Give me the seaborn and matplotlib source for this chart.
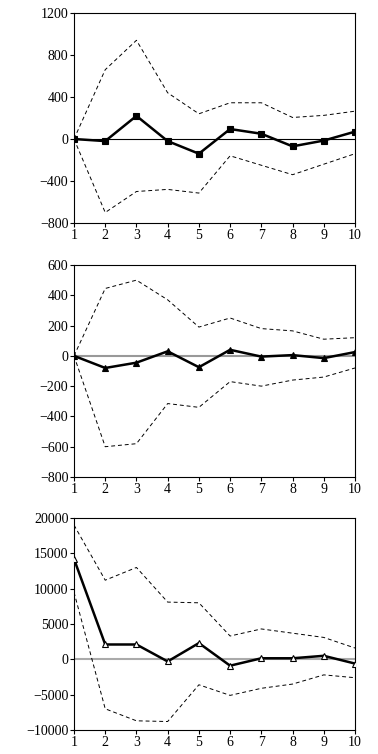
import pandas as pd
import matplotlib
matplotlib.use("Agg")
import matplotlib.pyplot as plt
import seaborn as sns

sns.set_style("ticks")
plt.rcParams['font.family'] = ['Liberation Serif', 'DejaVu Serif']
plt.rcParams['axes.unicode_minus'] = True

periods = [1, 2, 3, 4, 5, 6, 7, 8, 9, 10]

# panel 1
p1_mid = [0, -20, 220, -20, -140, 95, 50, -70, -15, 70]
p1_up = [0, 660, 940, 440, 240, 345, 345, 205, 225, 265]
p1_lo = [0, -700, -500, -480, -515, -160, -250, -340, -240, -140]

# panel 2
p2_mid = [0, -80, -45, 30, -75, 40, -5, 5, -15, 25]
p2_up = [0, 445, 500, 370, 190, 250, 180, 165, 110, 120]
p2_lo = [0, -600, -580, -315, -340, -170, -200, -160, -140, -80]

# panel 3
p3_mid = [14200, 2100, 2100, -300, 2300, -900, 150, 150, 500, -600]
p3_up = [19000, 11200, 13000, 8100, 8000, 3300, 4300, 3700, 3100, 1600]
p3_lo = [9500, -7000, -8700, -8800, -3600, -5100, -4100, -3500, -2200, -2600]

panels = [
    (p1_mid, p1_up, p1_lo, (-800, 1200), [-800, -400, 0, 400, 800, 1200], 's', 'black', 'black', 0.8),
    (p2_mid, p2_up, p2_lo, (-800, 600), [-800, -600, -400, -200, 0, 200, 400, 600], '^', 'black', '#999999', 1.5),
    (p3_mid, p3_up, p3_lo, (-10000, 20000), [-10000, -5000, 0, 5000, 10000, 15000, 20000], '^', 'white', '#aaaaaa', 1.5),
]

fig = plt.figure(figsize=(3.78, 7.54), dpi=100)
boxes = [
    [74/378, 1 - 223/754, 281/378, 210/754],
    [74/378, 1 - 477/754, 281/378, 212/754],
    [74/378, 1 - 730/754, 281/378, 212/754],
]

for box, (mid, up, lo, ylim, yt, mk, mfc, zc, zw) in zip(boxes, panels):
    ax = fig.add_axes(box)
    ax.axhline(0, color=zc, lw=zw, zorder=1)
    df = pd.DataFrame({'t': periods, 'mid': mid, 'up': up, 'lo': lo})
    sns.lineplot(data=df, x='t', y='up', ax=ax, color='black', lw=0.7, linestyle=(0, (4, 3)))
    sns.lineplot(data=df, x='t', y='lo', ax=ax, color='black', lw=0.7, linestyle=(0, (4, 3)))
    sns.lineplot(data=df, x='t', y='mid', ax=ax, color='black', lw=1.8, marker=mk,
                 markersize=5, markerfacecolor=mfc, markeredgecolor='black', markeredgewidth=0.8,
                 zorder=3)
    ax.set_xlim(1, 10)
    ax.set_ylim(*ylim)
    ax.set_xticks(periods)
    ax.set_yticks(yt)
    ax.set_xlabel('')
    ax.set_ylabel('')
    for s in ax.spines.values():
        s.set_linewidth(0.8)
        s.set_color('black')
    ax.tick_params(direction='out', length=3, width=0.8, labelsize=10, pad=1, colors='black')

plt.savefig('out.png', dpi=100)
